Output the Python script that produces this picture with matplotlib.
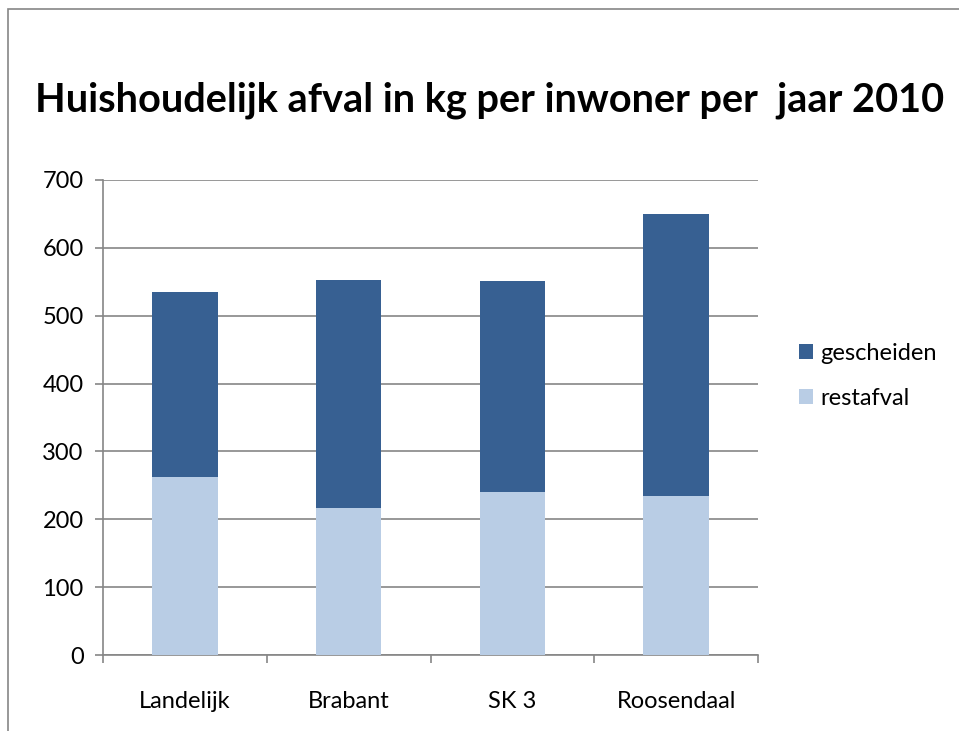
import matplotlib.pyplot as plt
from matplotlib.patches import Rectangle
import numpy as np

# chart data
categories = ["Landelijk", "Brabant", "SK 3", "Roosendaal"]
restafval = [263, 216, 240, 234]
gescheiden = [272, 337, 311, 416]   # stacked on top of restafval
series_names = ["gescheiden", "restafval"]
y_ticks = [0, 100, 200, 300, 400, 500, 600, 700]

dark = "#376092"
light = "#B9CDE5"
grid_grey = "#868686"

plt.rcParams["font.family"] = ["Lato", "DejaVu Sans"]

W, H = 959, 731
fig = plt.figure(figsize=(W / 100, H / 100), dpi=100)

# chart border (partly cut off on the right and bottom like the reference)
fig.patches.append(Rectangle((8 / W, -0.1), 1.2, 1.1 - 9 / H, transform=fig.transFigure,
                             fill=False, edgecolor=grid_grey, linewidth=1.2))

left, right, top, bottom = 103, 758, 180, 655
ax = fig.add_axes([left / W, 1 - bottom / H, (right - left) / W, (bottom - top) / H])

x = np.arange(len(categories))
ax.bar(x, restafval, width=0.4, color=light, zorder=3, label="restafval")
ax.bar(x, gescheiden, width=0.4, bottom=restafval, color=dark, zorder=3, label="gescheiden")

ax.set_xlim(-0.5, len(categories) - 0.5)
ax.set_ylim(0, 700)
ax.set_yticks(y_ticks)
ax.set_yticklabels([str(v) for v in y_ticks], fontsize=17)
ax.yaxis.grid(True, color=grid_grey, linewidth=1.2, zorder=0)
ax.set_axisbelow(True)

# category labels between tick marks at the boundaries
ax.set_xticks(np.arange(len(categories) + 1) - 0.5)
ax.set_xticklabels([])
ax.set_xticks(x, minor=True)
ax.set_xticklabels(categories, minor=True, fontsize=17)
ax.tick_params(axis="x", which="minor", length=0, pad=26)
ax.tick_params(axis="x", which="major", length=6, width=1.2, color=grid_grey, direction="out")
ax.tick_params(axis="y", length=6, width=1.2, color=grid_grey, direction="out", pad=8)

for side in ["top", "right"]:
    ax.spines[side].set_visible(False)
for side in ["left", "bottom"]:
    ax.spines[side].set_color(grid_grey)
    ax.spines[side].set_linewidth(1.2)

handles, labels = ax.get_legend_handles_labels()
ax.legend(handles[::-1], labels[::-1], loc="center left", bbox_to_anchor=(1.03, 0.588),
          frameon=False, fontsize=17, handlelength=0.6, handleheight=0.6,
          handletextpad=0.3, labelspacing=1.0)

fig.text(490 / W, 1 - 100 / H, "Huishoudelijk afval in kg per inwoner per  jaar 2010",
         ha="center", va="center", fontsize=28.6, fontweight="bold")

fig.savefig("out.png", dpi=100)
